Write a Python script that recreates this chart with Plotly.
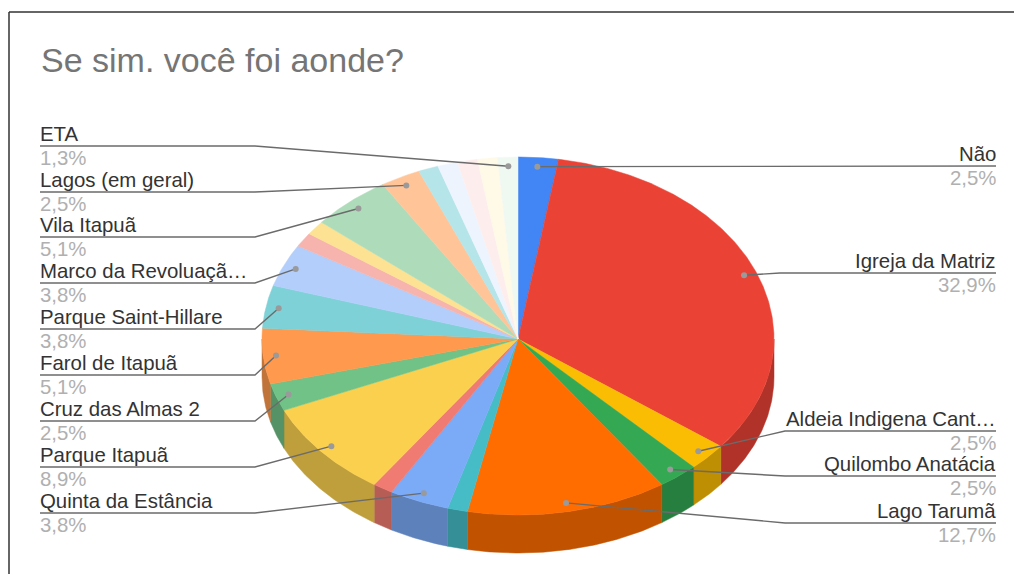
import math
import plotly.graph_objects as go

# ---- data (clockwise from 12 o'clock; slices without a name have no label in the chart)
categories = ["Não", "Igreja da Matriz", "Aldeia Indigena Cant…", "Quilombo Anatácia", "Lago Tarumã",
              None, "Quinta da Estância", None, "Parque Itapuã", "Cruz das Almas 2", "Farol de Itapuã",
              "Parque Saint-Hillare", "Marco da Revoluaçã…", None, None, "Vila Itapuã", "Lagos (em geral)",
              None, None, None, None, "ETA"]
counts = [2, 26, 2, 2, 10, 1, 3, 1, 7, 2, 4, 3, 3, 1, 1, 4, 2, 1, 1, 1, 1, 1]
title_text = "Se sim. você foi aonde?"

# ---- styles
colors = ["#4285f4", "#ea4335", "#fbbc04", "#34a853", "#ff6d01", "#46bdc6", "#7baaf7", "#f07b72", "#fcd04f",
          "#71c287", "#ff994d", "#7ed1d7", "#b3cefb", "#f7b4ae", "#fde293", "#aedcba", "#ffc599", "#b5e5e8",
          "#eef4fe", "#fdeeed", "#fff9e8", "#f0f8f2"]
W, H = 1014, 574
CX, CY, RX, RY_BACK, RY_FRONT, DEPTH = 518, 339, 256, 182, 176, 38
DOT_R = 0.95
# leader layout: name -> (side, line y, elbow x)
leaders = {
    "ETA": ("l", 146, 255), "Lagos (em geral)": ("l", 192, 255), "Vila Itapuã": ("l", 237, 255),
    "Marco da Revoluaçã…": ("l", 283, 255), "Parque Saint-Hillare": ("l", 329, 255),
    "Farol de Itapuã": ("l", 375, 255), "Cruz das Almas 2": ("l", 421, 255), "Parque Itapuã": ("l", 467, 255),
    "Quinta da Estância": ("l", 513, 255),
    "Não": ("r", 166, 780), "Igreja da Matriz": ("r", 273, 780), "Aldeia Indigena Cant…": ("r", 431, 785),
    "Quilombo Anatácia": ("r", 476, 785), "Lago Tarumã": ("r", 523, 785),
}
LEFT_X, RIGHT_X = 40, 996
FONT = "Liberation Sans"
LABEL_SIZE = 20.4
TITLE_SIZE = 34


def pt(deg, r=1.0, dz=0.0):
    a = math.radians(deg)
    ca = math.cos(a)
    ry = RY_BACK if ca > 0 else RY_FRONT
    return CX + r * RX * math.sin(a), CY - r * ry * ca + dz


def darken(hexc, f=0.76):
    return "#%02x%02x%02x" % tuple(int(int(hexc[i:i + 2], 16) * f) for i in (1, 3, 5))


total = sum(counts)
starts, acc = [], 0
for c in counts:
    starts.append(acc / total * 360)
    acc += c
ends = [s + c / total * 360 for s, c in zip(starts, counts)]

fig = go.Figure()

# extruded side of the front half
for s, e, col in zip(starts, ends, colors):
    lo, hi = max(s, 90), min(e, 270)
    if hi <= lo:
        continue
    n = max(2, int((hi - lo) * 2))
    angs = [lo + (hi - lo) * i / n for i in range(n + 1)]
    top = [pt(a) for a in angs]
    bot = [pt(a, dz=DEPTH) for a in reversed(angs)]
    poly = top + bot + [top[0]]
    side = darken(col)
    fig.add_trace(go.Scatter(x=[p[0] for p in poly], y=[p[1] for p in poly], mode="lines", fill="toself",
                             fillcolor=side, line=dict(color=side, width=0.5), hoverinfo="skip", showlegend=False))

# top surface
for s, e, col, name, c in zip(starts, ends, colors, categories, counts):
    n = max(2, int((e - s) * 2))
    angs = [s + (e - s) * i / n for i in range(n + 1)]
    poly = [(CX, CY)] + [pt(a) for a in angs] + [(CX, CY)]
    fig.add_trace(go.Scatter(x=[p[0] for p in poly], y=[p[1] for p in poly], mode="lines", fill="toself",
                             fillcolor=col, line=dict(color=col, width=0.5), name=name or "",
                             hoverinfo="skip", showlegend=False))

# leaders and labels
annotations = []
for s, e, name, c in zip(starts, ends, categories, counts):
    if name is None:
        continue
    side, ly, ex = leaders[name]
    dx, dy = pt((s + e) / 2, DOT_R)
    xend = LEFT_X if side == "l" else RIGHT_X
    fig.add_trace(go.Scatter(x=[xend, ex, dx], y=[ly, ly, dy], mode="lines", line=dict(color="#6b6b6b", width=1.4),
                             hoverinfo="skip", showlegend=False))
    fig.add_trace(go.Scatter(x=[dx], y=[dy], mode="markers", marker=dict(color="#9a9a9a", size=6),
                             hoverinfo="skip", showlegend=False))
    anchor = "left" if side == "l" else "right"
    label_x = xend - 1 if side == "l" else xend + 1
    pct = f"{100 * c / total:.1f}".replace(".", ",") + "%"
    annotations.append(dict(x=label_x, y=ly + 0, text=name, showarrow=False, xanchor=anchor, yanchor="bottom",
                            font=dict(family=FONT, size=LABEL_SIZE, color="#333333"),
                            borderpad=0))
    annotations.append(dict(x=label_x, y=ly, text=pct, showarrow=False, xanchor=anchor, yanchor="top",
                            font=dict(family=FONT, size=LABEL_SIZE, color="#b0b0b0"), borderpad=0))

annotations.append(dict(x=39, y=60, text=title_text, showarrow=False, xanchor="left", yanchor="middle",
                        font=dict(family=FONT, size=TITLE_SIZE, color="#757575")))

shapes = [
    dict(type="line", x0=9, x1=W, y0=12, y1=12, line=dict(color="#333333", width=1.5)),
    dict(type="line", x0=9, x1=9, y0=12, y1=H, line=dict(color="#333333", width=1.5)),
]

fig.update_layout(
    width=W, height=H, margin=dict(l=0, r=0, t=0, b=0), paper_bgcolor="white", plot_bgcolor="white",
    xaxis=dict(range=[0, W], visible=False, fixedrange=True),
    yaxis=dict(range=[H, 0], visible=False, fixedrange=True),
    annotations=annotations, shapes=shapes, showlegend=False,
)
fig.write_html("out.html", config={"displayModeBar": False},
               post_script="document.body.style.margin='0';document.body.style.overflow='hidden';")
